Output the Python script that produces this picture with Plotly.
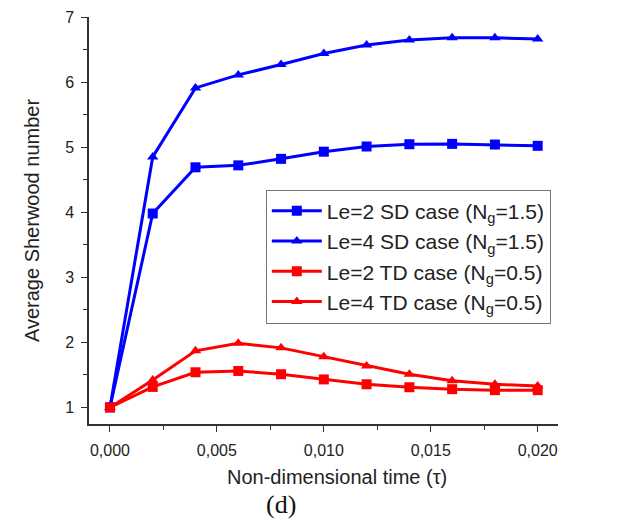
import plotly.graph_objects as go

tau = [0.000, 0.002, 0.004, 0.006, 0.008, 0.010, 0.012, 0.014, 0.016, 0.018, 0.020]
le2_sd = [1.0, 3.98, 4.69, 4.72, 4.82, 4.93, 5.01, 5.045, 5.05, 5.04, 5.02]
le4_sd = [1.0, 4.85, 5.91, 6.11, 6.27, 6.44, 6.57, 6.645, 6.68, 6.68, 6.66]
le2_td = [1.0, 1.315, 1.54, 1.56, 1.51, 1.43, 1.355, 1.31, 1.28, 1.265, 1.265]
le4_td = [1.0, 1.42, 1.87, 1.985, 1.915, 1.78, 1.635, 1.51, 1.41, 1.355, 1.33]

names = ["Le=2 SD case (N<sub>g</sub>=1.5)", "Le=4 SD case (N<sub>g</sub>=1.5)",
         "Le=2 TD case (N<sub>g</sub>=0.5)", "Le=4 TD case (N<sub>g</sub>=0.5)"]
series = [le2_sd, le4_sd, le2_td, le4_td]
colors = ["#0000ff", "#0000ff", "#ff0000", "#ff0000"]
symbols = ["square", "triangle-up", "square", "triangle-up"]

fig = go.Figure()
for n, s, c, sym in zip(names, series, colors, symbols):
    fig.add_trace(go.Scatter(x=tau, y=s, mode="lines+markers", name=n,
                             line=dict(color=c, width=3),
                             marker=dict(symbol=sym, size=10, color=c)))

axis_common = dict(showline=True, linecolor="#333", linewidth=1.5, ticks="outside",
                   ticklen=6, tickcolor="#333", showgrid=False, zeroline=False, mirror=False,
                   automargin=False, ticklabeloverflow="allow",
                   tickfont=dict(size=16, color="#222"))
fig.update_xaxes(range=[-0.00098, 0.02095], tick0=0, dtick=0.005, tickformat=".3f",
                 minor=dict(dtick=0.0025, ticks="outside", ticklen=4, tickcolor="#333"),
                 ticklabelstandoff=5,
                 **axis_common)
fig.update_yaxes(range=[0.745, 7], tick0=0, dtick=1,
                 minor=dict(dtick=0.5, ticks="outside", ticklen=4, tickcolor="#333"),
                 title=dict(text="Average Sherwood number", font=dict(size=20, color="#222"), standoff=20),
                 ticklabelstandoff=4,
                 **axis_common)

fig.update_layout(
    width=624, height=527,
    margin=dict(l=81, r=74, t=9, b=111),
    plot_bgcolor="white", paper_bgcolor="white",
    font=dict(family="Arial, Liberation Sans, sans-serif", color="#222"),
    separators=", ",
    legend=dict(x=0.377, y=0.576, xanchor="left", yanchor="top",
                bordercolor="#777", borderwidth=1, bgcolor="white",
                font=dict(size=21, color="#222"), itemwidth=50, tracegroupgap=0),
    annotations=[
        dict(text="Non-dimensional time (τ)", xref="paper", yref="paper", x=0.529, y=-0.129,
             xanchor="center", yanchor="middle", showarrow=False,
             font=dict(size=20, color="#222")),
        dict(text="(d)", xref="paper", yref="paper", x=0.409, y=-0.198,
             xanchor="center", yanchor="middle", showarrow=False,
             font=dict(family="Times New Roman, Liberation Serif, serif", size=26, color="#111")),
    ],
)

fig.write_html("out.html")
